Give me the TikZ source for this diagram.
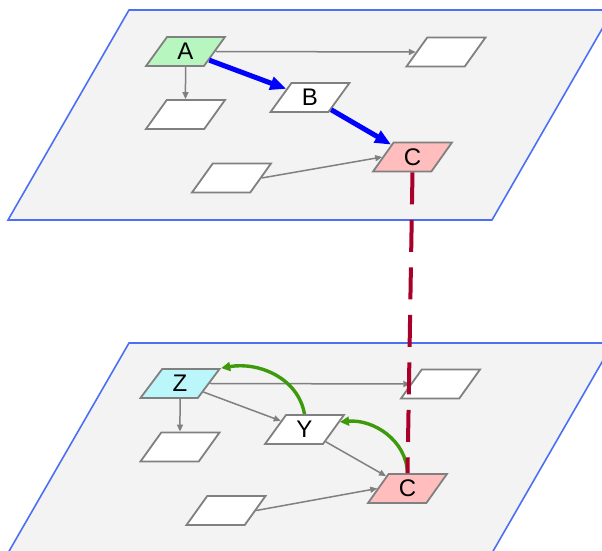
\documentclass[tikz,border=0pt]{standalone}
\usepackage{fontspec}
\setmainfont{Liberation Sans}
\usetikzlibrary{shapes.geometric,arrows.meta}

\definecolor{planefill}{HTML}{F3F3F3}
\definecolor{planeblue}{HTML}{4D6FF4}
\definecolor{boxgray}{HTML}{808080}
\definecolor{afill}{HTML}{B8F6C0}
\definecolor{cfill}{HTML}{FFBDBD}
\definecolor{zfill}{HTML}{BBF7FA}
\definecolor{linkred}{HTML}{A8002A}
\definecolor{arcgreen}{HTML}{3D9A0A}

\begin{document}
\begin{tikzpicture}[x=0.5pt, y=-0.5pt, font=\fontsize{12}{14}\selectfont,
    plane/.style={fill=planefill, draw=planeblue, line width=0.8pt},
    box/.style={trapezium, trapezium left angle=61, trapezium right angle=119,
      trapezium stretches=true, minimum width=39.5pt, minimum height=14.5pt,
      inner sep=1pt, draw=boxgray, line width=0.9pt, fill=white},
    edge/.style={draw=boxgray, line width=0.75pt, -{Triangle[length=3.5pt, width=3pt]}},
    chain/.style={draw=blue, line width=2.5pt, -{Triangle[length=8pt, width=6.5pt]}},
    back/.style={draw=arcgreen, line width=1.7pt, -{Triangle[length=4.5pt, width=4.5pt]}}]
  \useasboundingbox (0,0) rectangle (602,551);
  \clip (0,0) rectangle (602,551);
  \def\layer{333}

  \draw[plane] (8,220) -- (129,10) -- (613,10) -- (492,220) -- cycle;
  \node[box, fill=afill] (a) at (185.5,51.5) {A};
  \node[box] (u1) at (446,52) {};
  \node[box] (u2) at (185.5,114.5) {};
  \node[box] (b) at (310,97.5) {B};
  \node[box] (u3) at (231.5,178) {};
  \node[box, fill=cfill] (c) at (412.5,157) {C};

  \draw[edge] (a.east) -- (u1.west);
  \draw[edge] (a.south) -- (u2.north);
  \draw[edge] (u3.east) -- (c.west);
  \draw[chain] (a.-20) -- (b.160);
  \draw[chain] (b.-30) -- (c.150);

  \begin{scope}[shift={(0,\layer)}]
    \draw[plane] (8,220) -- (129,10) -- (613,10) -- (492,220) -- cycle;
  \end{scope}
  \node[box, fill=zfill] (z) at (180,383.5) {Z};
  \node[box] (l1) at (440.5,384) {};
  \node[box] (l2) at (180,447) {};
  \node[box] (y) at (304.5,429.5) {Y};
  \node[box] (l3) at (226,510.5) {};
  \node[box, fill=cfill] (cc) at (407.5,488.5) {C};

  \draw[edge] (z.east) -- (l1.west);
  \draw[edge] (z.south) -- (l2.north);
  \draw[edge] (z.-20) -- (y.160);
  \draw[edge] (y.-30) -- (cc.150);
  \draw[edge] (l3.east) -- (cc.west);
  \draw[back] (y.north) to[out=100, in=10] (z.top right corner);
  \draw[back] (cc.north) to[out=92, in=5] (y.12);

  \draw[linkred, line width=2pt, dash pattern=on 16pt off 7.75pt] (c.south) -- (cc.north);
\end{tikzpicture}
\end{document}
